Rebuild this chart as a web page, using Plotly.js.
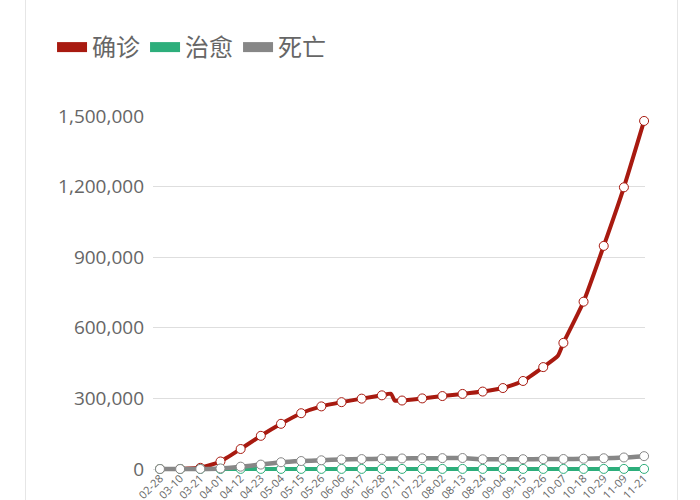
<!DOCTYPE html>
<html>
<head>
<meta charset="utf-8">
<script src="https://cdn.plot.ly/plotly-3.0.1.min.js"></script>
<style>
  body { margin: 0; background: #fff; }
  #wrap {
    position: absolute; left: 25px; top: 0;
    width: 651px; height: 500px;
    border-left: 1px solid #e6e6e6;
    border-right: 1px solid #e6e6e6;
    overflow: hidden;
  }
  #chart { width: 651px; height: 500px; }
</style>
</head>
<body>
<div id="wrap"><div id="chart"></div></div>
<script>
// labelled dates, one every 11 data days
var tickLabels = ['02-28', '03-10', '03-21', '04-01', '04-12', '04-23', '05-04', '05-15',
  '05-26', '06-06', '06-17', '06-28', '07-11', '07-22', '08-02', '08-13', '08-24',
  '09-04', '09-15', '09-26', '10-07', '10-18', '10-29', '11-09', '11-21'];
var tickDays = tickLabels.map(function(d, i) { return i * 11; });

// 确诊 (a few extra days where the line kinks)
var confirmedDays = [0, 11, 22, 33, 44, 55, 66, 77, 88, 99, 110, 121, 126, 128, 132, 143,
  154, 165, 176, 187, 198, 209, 217, 220, 231, 242, 253, 264];
var confirmedValues = [20, 320, 5000, 32000, 85000, 141000, 192000, 237000, 266000, 284000,
  299000, 313000, 320000, 291000, 291000, 300000, 310000, 319000, 329000, 344000,
  374000, 433000, 481000, 536000, 711000, 948000, 1197000, 1479000];

// 治愈
var curedValues = [8, 18, 135, 135, 344, 344, 344, 344, 344, 344, 344, 344, 344, 344,
  344, 344, 344, 344, 344, 344, 344, 344, 344, 344, 344];

// 死亡
var deathValues = [0, 6, 300, 2500, 10000, 18700, 28700, 33900, 37000, 40500, 42200,
  43500, 44800, 45500, 46200, 46700, 41400, 41600, 41700, 42000, 42500, 43600, 45700,
  49000, 54600];

var RED = '#a81a10', GREEN = '#2dae7b', GRAY = '#878787';

function series(name, days, values, color, width) {
  return {
    type: 'scatter',
    mode: 'lines+markers',
    name: name,
    legendgroup: name,
    showlegend: false,
    x: days,
    y: values,
    cliponaxis: false,
    line: { color: color, width: width, shape: 'spline', smoothing: 0.5 },
    marker: {
      symbol: 'circle',
      color: '#fff',
      opacity: 1,
      size: days.map(function(d) { return tickDays.indexOf(d) >= 0 ? 9 : 0; }),
      line: { color: color, width: 1 }
    },
    hoverinfo: 'skip'
  };
}

// legend-only entries drawn as thick swatches
function swatch(name, color) {
  return {
    type: 'scatter', mode: 'lines', name: name, legendgroup: name,
    x: [null], y: [null],
    line: { color: color, width: 12 }
  };
}

var data = [
  swatch('确诊', RED), swatch('治愈', GREEN), swatch('死亡', GRAY),
  series('确诊', confirmedDays, confirmedValues, RED, 4),
  series('治愈', tickDays, curedValues, GREEN, 4),
  series('死亡', tickDays, deathValues, GRAY, 4.5)
];

var layout = {
  width: 651,
  height: 500,
  // plot area runs a little below zero so the bottom lines are not clipped
  margin: { l: 127, r: 32, t: 116, b: 21 },
  paper_bgcolor: '#fff',
  plot_bgcolor: '#fff',
  font: { family: '"Open Sans", "Noto Sans CJK SC", sans-serif', color: '#666' },
  showlegend: true,
  legend: {
    orientation: 'h',
    xref: 'container', yref: 'container',
    x: 0.04, y: 0.95,
    xanchor: 'left', yanchor: 'top',
    font: { family: '"Noto Sans CJK SC", sans-serif', size: 24, color: '#666' },
    itemwidth: 30,
    traceorder: 'normal'
  },
  xaxis: {
    type: 'linear',
    range: [-3.8, 264.5],
    tickmode: 'array',
    tickvals: tickDays,
    ticktext: tickLabels,
    tickangle: -45,
    tickfont: { size: 11, color: '#666' },
    ticks: '',
    ticklabelstandoff: -10,
    showgrid: false,
    zeroline: false,
    showline: false,
    automargin: false,
    fixedrange: true
  },
  yaxis: {
    range: [-42500, 1500000],
    tickvals: [0, 300000, 600000, 900000, 1200000, 1500000],
    tickformat: ',d',
    tickfont: { size: 19, color: '#666' },
    ticklabelstandoff: 8,
    gridcolor: '#dedede',
    gridwidth: 1,
    zeroline: false,
    showline: false,
    automargin: false,
    fixedrange: true
  }
};

Plotly.newPlot('chart', data, layout, { staticPlot: true, displayModeBar: false });
</script>
</body>
</html>
